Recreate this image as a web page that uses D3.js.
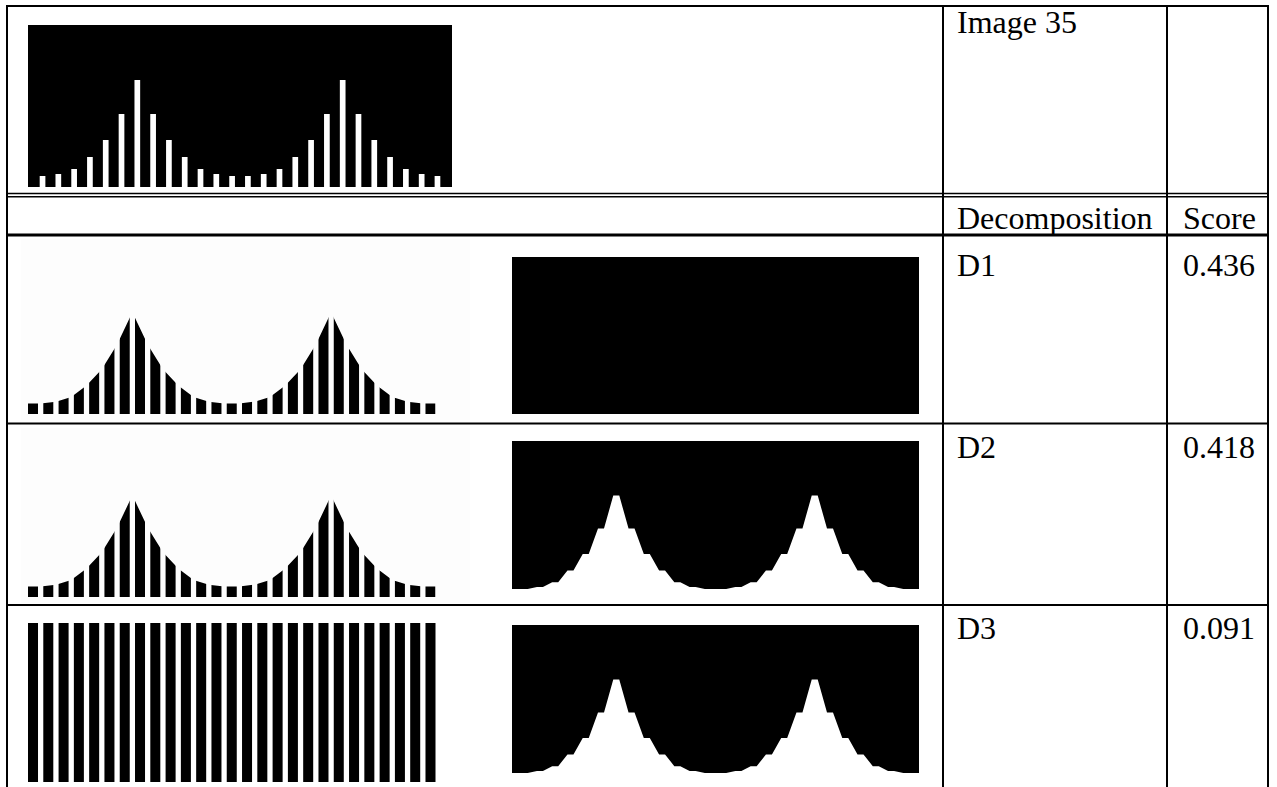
<!DOCTYPE html>
<html>
<head>
<meta charset="utf-8">
<script src="https://cdn.jsdelivr.net/npm/d3@7"></script>
<style>
  html, body { margin: 0; padding: 0; background: #fff; }
  svg { display: block; }
  text { font-family: "Liberation Serif", "Times New Roman", serif; font-size: 32px; fill: #000; }
</style>
</head>
<body>
<script>
"use strict"

// profile of the source image: one value per white bar
const profile = [11, 13, 18, 30, 47, 73, 107, 73, 47, 30, 18, 13, 11, 11, 13, 18, 30, 47, 73, 107, 73, 47, 30, 18, 13, 11]
const imageLabel = "Image 35"
const headers = ["Decomposition", "Score"]
const decompositions = ["D1", "D2", "D3"]
const scores = [0.436, 0.418, 0.091]
const leftParts = ["curve", "curve", "stripes"]
const rightParts = ["solid", "ridge", "ridge"]
const stripeCount = 27

const width = 1277
const height = 787

const grid = { left : 7, right : 1268, top : 6, col1 : 943, col2 : 1167 }
const rows = [
  { text : 276, left : [239, 414], right : [257, 414] },
  { text : 458, left : [428, 597], right : [441, 589] },
  { text : 639, left : [623, 782], right : [625, 773] },
]
const leftX = [28, 435.5]
const rightX = [512, 919]

const svg = d3.select("body").append("svg")
  .attr("width", width)
  .attr("height", height)

// ---- scales
const low = d3.min(profile)
const high = d3.max(profile)

const barX = d3.scaleBand().domain(d3.range(profile.length)).range([28, 452]).paddingInner(0.64).paddingOuter(0.74)
const barY = d3.scaleLinear().domain([0, 162]).range([187, 25])

const stripeX = d3.scaleBand().domain(d3.range(stripeCount)).range(leftX).paddingInner(0.345)
const vertexX = i => stripeX(i) + stripeX.bandwidth() + (stripeX.step() - stripeX.bandwidth()) / 2
const curveH = d3.scaleLinear().domain([0, high]).range([0, 101.7])

const ridgeX = d3.scalePoint().domain(d3.range(profile.length)).range(rightX).padding(0.83)
const ridgeH = d3.scaleLinear().domain([0, high - low]).range([0, 93.5])
const flat = 3

// ---- source image
const source = svg.append("g").attr("class", "source")
source.append("rect")
  .attr("x", 28).attr("y", 25)
  .attr("width", 424).attr("height", 162)
  .attr("fill", "#000")
source.selectAll(".bar").data(profile).enter().append("rect")
  .attr("class", "bar")
  .attr("x", (_, i) => barX(i))
  .attr("y", v => barY(v))
  .attr("width", barX.bandwidth())
  .attr("height", v => barY(0) - barY(v))
  .attr("fill", "#fff")

// ---- decomposition rows
const drawCurve = (g, row, idx) => {
  const [y0, y1] = row.left
  g.append("rect")
    .attr("x", 21).attr("y", y0)
    .attr("width", 449).attr("height", y1 - y0 + 6)
    .attr("fill", "#fdfdfd")
  const clipId = `stripes-${idx}`
  g.append("clipPath").attr("id", clipId)
    .selectAll("rect").data(d3.range(stripeCount)).enter().append("rect")
      .attr("x", i => stripeX(i))
      .attr("y", y0)
      .attr("width", stripeX.bandwidth())
      .attr("height", y1 - y0)
  const pts = [{ x : leftX[0], v : profile[0] }]
    .concat(profile.map((v, i) => ({ x : vertexX(i), v })))
    .concat([{ x : leftX[1], v : profile[profile.length - 1] }])
  const area = d3.area()
    .x(d => d.x)
    .y0(y1)
    .y1(d => y1 - curveH(d.v))
  g.append("path")
    .attr("d", area(pts))
    .attr("fill", "#000")
    .attr("clip-path", `url(#${clipId})`)
}

const drawStripes = (g, row) => {
  const [y0, y1] = row.left
  g.selectAll(".stripe").data(d3.range(stripeCount)).enter().append("rect")
    .attr("class", "stripe")
    .attr("x", i => stripeX(i))
    .attr("y", y0)
    .attr("width", stripeX.bandwidth())
    .attr("height", y1 - y0)
    .attr("fill", "#000")
}

const drawRight = (g, row, kind) => {
  const [y0, y1] = row.right
  g.append("rect")
    .attr("x", rightX[0]).attr("y", y0)
    .attr("width", rightX[1] - rightX[0]).attr("height", y1 - y0)
    .attr("fill", "#000")
  if (kind !== "ridge") return
  const pts = [{ x : rightX[0], v : 0 }]
    .concat(profile.flatMap((v, i) => [
      { x : ridgeX(i) - flat, v : v - low },
      { x : ridgeX(i) + flat, v : v - low },
    ]))
    .concat([{ x : rightX[1], v : 0 }])
  const area = d3.area()
    .x(d => d.x)
    .y0(y1)
    .y1(d => y1 - ridgeH(d.v))
  g.append("path")
    .attr("d", area(pts))
    .attr("fill", "#fff")
}

decompositions.forEach((name, idx) => {
  const row = rows[idx]
  const g = svg.append("g").attr("class", "decomposition")
  if (leftParts[idx] === "curve") drawCurve(g, row, idx)
  else drawStripes(g, row)
  drawRight(g, row, rightParts[idx])
  g.append("text").attr("x", 957).attr("y", row.text).text(name)
  g.append("text").attr("x", 1183).attr("y", row.text).text(d3.format(".3f")(scores[idx]))
})

// ---- labels
svg.append("text").attr("x", 957).attr("y", 33).text(imageLabel)
svg.append("text").attr("x", 957).attr("y", 229).text(headers[0])
svg.append("text").attr("x", 1183).attr("y", 229).text(headers[1])

// ---- table rules
const hLines = [
  { y : grid.top, w : 2 },
  { y : 193.5, w : 1.5 },
  { y : 196.8, w : 1.5 },
  { y : 235, w : 3 },
  { y : 423.5, w : 2 },
  { y : 605, w : 2 },
]
svg.selectAll(".hrule").data(hLines).enter().append("line")
  .attr("class", "hrule")
  .attr("x1", grid.left - 1).attr("x2", grid.right + 1)
  .attr("y1", d => d.y).attr("y2", d => d.y)
  .attr("stroke", "#000")
  .attr("stroke-width", d => d.w)

const vLines = [grid.left, grid.col1, grid.col2, grid.right]
svg.selectAll(".vrule").data(vLines).enter().append("line")
  .attr("class", "vrule")
  .attr("x1", d => d).attr("x2", d => d)
  .attr("y1", grid.top - 1).attr("y2", height)
  .attr("stroke", "#000")
  .attr("stroke-width", 2)
</script>
</body>
</html>
